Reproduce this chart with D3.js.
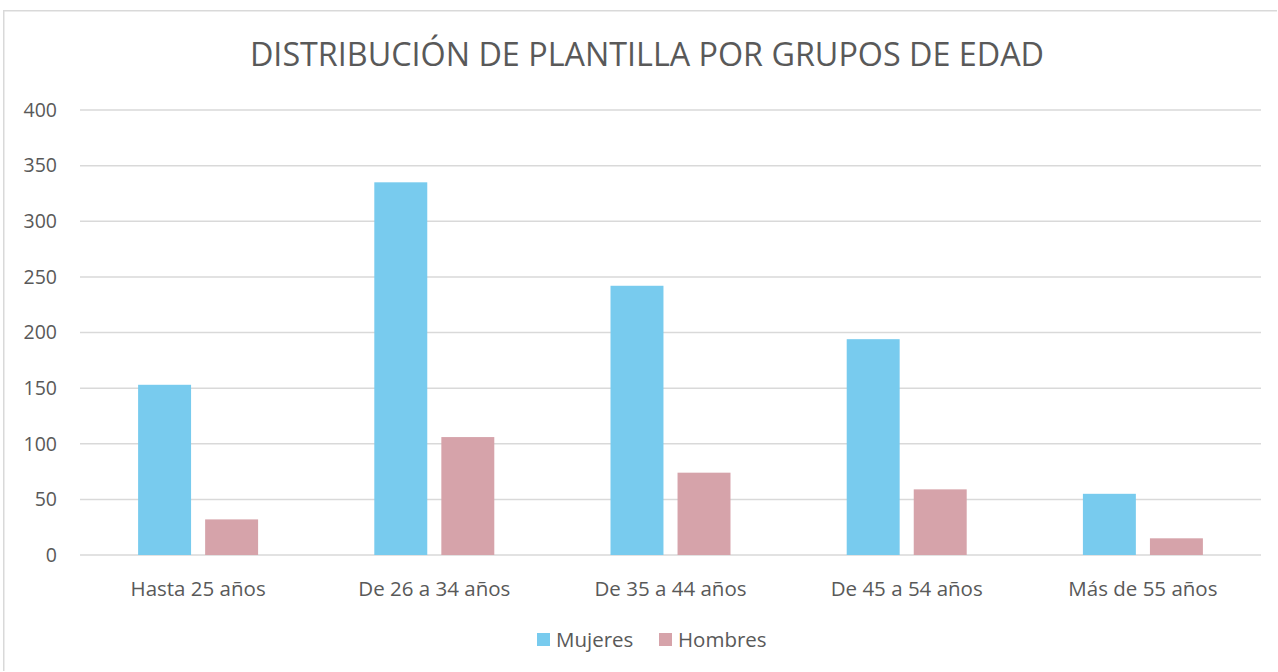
<!DOCTYPE html>
<html>
<head>
<meta charset="utf-8">
<script src="https://cdn.jsdelivr.net/npm/d3@7"></script>
<style>
  html, body { margin: 0; padding: 0; background: #fff; overflow: hidden; }
  #chart { width: 1278px; height: 672px; }
</style>
</head>
<body>
<div id="chart"></div>
<script>
// Chart data
const categories = ["Hasta 25 años", "De 26 a 34 años", "De 35 a 44 años", "De 45 a 54 años", "Más de 55 años"];
const seriesNames = ["Mujeres", "Hombres"];
const mujeres = [153, 335, 242, 194, 55];
const hombres = [32, 106, 74, 59, 15];
const yTicks = [0, 50, 100, 150, 200, 250, 300, 350, 400];
const title = "DISTRIBUCIÓN DE PLANTILLA POR GRUPOS DE EDAD";

const width = 1278, height = 672;
const margin = { top: 110, right: 17, bottom: 117, left: 80 };
const innerWidth = width - margin.left - margin.right;
const innerHeight = height - margin.top - margin.bottom;
const colors = { Mujeres: "#78cbee", Hombres: "#d6a3aa" };
const textColor = "#595959";
const fontFamily = "'Open Sans', sans-serif";

const rows = categories.map((c, i) => ({ category: c, Mujeres: mujeres[i], Hombres: hombres[i] }));

const svg = d3.select("#chart")
  .append("svg")
  .attr("width", width)
  .attr("height", height)
  .style("display", "block")
  .attr("font-family", fontFamily);

// Chart area border (only top and left edges are inside the frame)
svg.append("line")
  .attr("x1", 3.75).attr("x2", 3.75)
  .attr("y1", 10).attr("y2", height - 1)
  .attr("stroke", "#d9d9d9")
  .attr("stroke-width", 1.5);
svg.append("line")
  .attr("x1", 3).attr("x2", width - 1)
  .attr("y1", 10.75).attr("y2", 10.75)
  .attr("stroke", "#d9d9d9")
  .attr("stroke-width", 1.5);

const g = svg.append("g")
  .attr("transform", `translate(${margin.left},${margin.top})`);

const x0 = d3.scaleBand()
  .domain(categories)
  .range([0, innerWidth])
  .paddingInner(0.492)
  .paddingOuter(0.246);

const x1 = d3.scaleBand()
  .domain(seriesNames)
  .range([0, x0.bandwidth()])
  .paddingInner(0.21)
  .paddingOuter(0);

const y = d3.scaleLinear()
  .domain([0, 400])
  .range([innerHeight, 0]);

// Gridlines
g.append("g")
  .attr("class", "grid")
  .selectAll("line")
  .data(yTicks)
  .join("line")
  .attr("x1", 0)
  .attr("x2", innerWidth)
  .attr("y1", d => y(d))
  .attr("y2", d => y(d))
  .attr("stroke", "#d9d9d9")
  .attr("stroke-width", 1.5);

// Bars
g.append("g")
  .selectAll("g")
  .data(rows)
  .join("g")
  .attr("transform", d => `translate(${x0(d.category)},0)`)
  .selectAll("rect")
  .data(d => seriesNames.map(k => ({ key: k, value: d[k] })))
  .join("rect")
  .attr("x", d => x1(d.key))
  .attr("y", d => y(d.value))
  .attr("width", x1.bandwidth())
  .attr("height", d => innerHeight - y(d.value))
  .attr("fill", d => colors[d.key]);

// Y axis labels
const yAxis = d3.axisLeft(y).tickValues(yTicks).tickSize(0).tickPadding(23);
g.append("g")
  .call(yAxis)
  .attr("font-size", 19.5)
  .attr("font-family", fontFamily)
  .call(s => s.select(".domain").remove())
  .selectAll("text")
  .attr("fill", textColor);

// X axis labels
const xAxis = d3.axisBottom(x0).tickSize(0).tickPadding(26);
g.append("g")
  .attr("transform", `translate(0,${innerHeight})`)
  .call(xAxis)
  .attr("font-size", 20.5)
  .attr("font-family", fontFamily)
  .call(s => s.select(".domain").remove())
  .selectAll("text")
  .attr("fill", textColor);

// Title
svg.append("text")
  .attr("x", 647)
  .attr("y", 66)
  .attr("text-anchor", "middle")
  .attr("fill", textColor)
  .attr("font-size", 32.3)
  .text(title);

// Legend
const legend = svg.append("g")
  .attr("transform", "translate(537,633)");
const legendX = [0, 122];
seriesNames.forEach((name, i) => {
  legend.append("rect")
    .attr("x", legendX[i])
    .attr("y", 0)
    .attr("width", 13)
    .attr("height", 13)
    .attr("fill", colors[name]);
  legend.append("text")
    .attr("x", legendX[i] + 19)
    .attr("y", 14)
    .attr("fill", textColor)
    .attr("font-size", 20.5)
    .text(name);
});
</script>
</body>
</html>
